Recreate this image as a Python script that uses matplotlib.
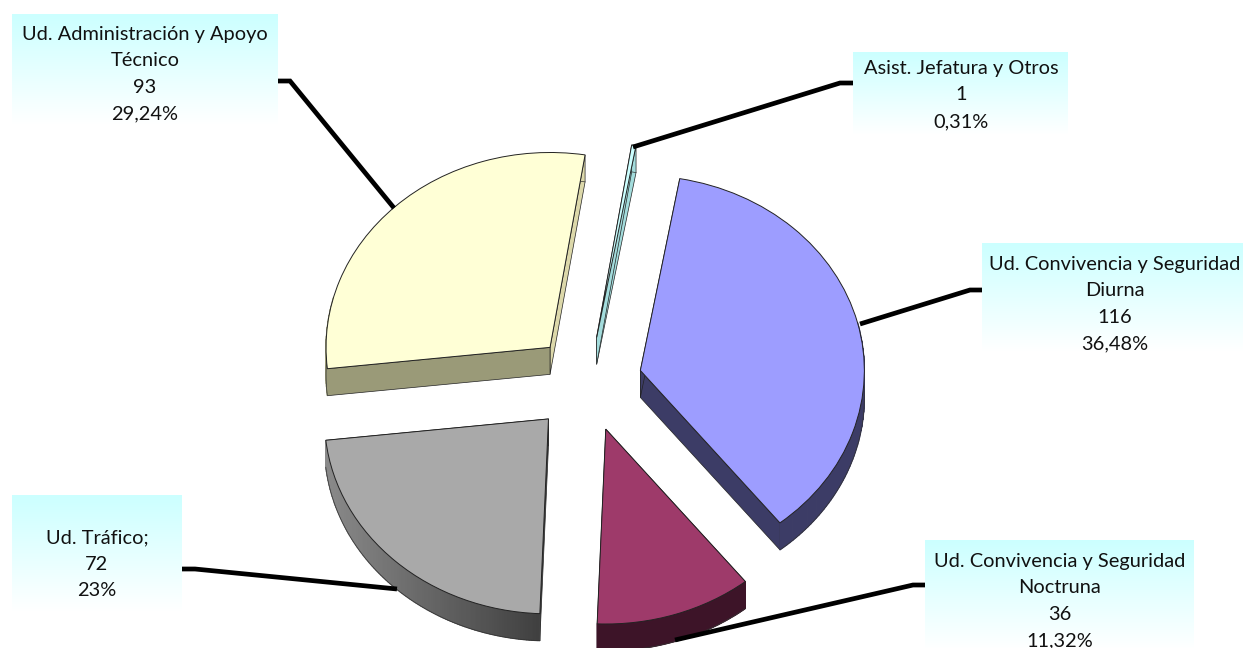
import numpy as np
import matplotlib
matplotlib.use("Agg")
import matplotlib.pyplot as plt
from matplotlib.colors import LinearSegmentedColormap

# data
names = ["Asist. Jefatura y Otros", "Ud. Convivencia y Seguridad\nDiurna",
         "Ud. Convivencia y Seguridad\nNoctruna", "Ud. Tráfico;",
         "Ud. Administración y Apoyo\nTécnico"]
values = [1, 116, 36, 72, 93]
shares = ["0,31%", "36,48%", "11,32%", "23%", "29,24%"]

# style
W, H = 1245, 648
YS = 0.87
R = 224
DEPTH = 27
CX, CY = 588, 382
explode = [52, 54, 57, 58, 55]
tops = ["#ccffff", "#9d9dff", "#9e3a6a", "#a9a9a9", "#ffffd6"]
wall_t2 = ["#a3dcdc", "#3c3c66", "#3d1428", "#4a4a4a", "#9a9a78"]
wall_t1 = ["#a3dcdc", "#3c3c66", "#3d1428", "#4a4a4a", "#dcd8aa"]
arc_left = ["#a3dcdc", "#3c3c66", "#3d1428", "#8a8a8a", "#9a9a78"]
arc_right = ["#a3dcdc", "#3c3c66", "#3d1428", "#404040", "#9a9a78"]
boxes = [(853, 52, 1068, 135), (982, 243, 1243, 352), (925, 540, 1194, 650),
         (12, 495, 182, 612), (12, 14, 278, 125)]
text_pos = [(961, 95), (1115, 304), (1060, 601), (97, 564), (145, 74)]
leaders = [[(853, 83), (840, 83), (633, 147)],
           [(982, 290), (970, 290), (860, 324)],
           [(925, 585), (913, 585), (675, 640)],
           [(182, 569), (195, 569), (397, 589)],
           [(278, 81), (290, 81), (394, 208)]]

plt.rcParams["font.family"] = ["Lato", "DejaVu Sans"]
fig = plt.figure(figsize=(W / 100, H / 100), dpi=100, facecolor="white")
ax = fig.add_axes([0, 0, 1, 1])
wedges, _ = ax.pie(values, explode=explode, radius=R, startangle=81,
                   counterclock=False, center=(CX, (H - CY) / YS), colors=tops,
                   wedgeprops=dict(edgecolor="#222222", linewidth=0.7, zorder=5))
ax.set_aspect("auto")
ax.set_xlim(0, W)
ax.set_ylim(0, H / YS)
ax.axis("off")
d = DEPTH / YS

for i, w in enumerate(wedges):
    cx, cy = w.center
    t1, t2 = w.theta1, w.theta2
    for th, col in ((t1, wall_t1[i]), (t2, wall_t2[i])):
        x = cx + w.r * np.cos(np.radians(th))
        y = cy + w.r * np.sin(np.radians(th))
        ax.fill([cx, x, x, cx], [cy, y, y - d, cy - d], color=col,
                ec="#222222", lw=0.5, zorder=2)
    angs = np.radians(np.linspace(t1, t2, 121))
    xs = cx + w.r * np.cos(angs)
    ys = cy + w.r * np.sin(angs)
    xmin, xmax = xs.min(), xs.max()
    cmap = LinearSegmentedColormap.from_list("w", [arc_left[i], arc_right[i]])
    for k in range(len(angs) - 1):
        if ys[k] + ys[k + 1] > 2 * cy + 0.5 * w.r:
            continue
        c = cmap((0.5 * (xs[k] + xs[k + 1]) - xmin) / max(xmax - xmin, 1))
        ax.fill([xs[k], xs[k + 1], xs[k + 1], xs[k]],
                [ys[k], ys[k + 1], ys[k + 1] - d, ys[k] - d],
                fc=c, ec=c, lw=0.9, zorder=3)
    ax.plot(xs, ys - d, color="#333333", lw=0.5, zorder=4)

ov = fig.add_axes([0, 0, 1, 1], facecolor="none")
ov.axis("off")
grad = LinearSegmentedColormap.from_list("g", ["#ccffff", "#ffffff"])
g = np.linspace(0, 1, 64).reshape(-1, 1)
for i, name in enumerate(names):
    x0, y0, x1, y1 = boxes[i]
    ov.imshow(g, cmap=grad, extent=(x0, x1, y1, y0), aspect="auto", zorder=1, vmin=0, vmax=1)
    xs_l, ys_l = zip(*leaders[i])
    ov.plot(xs_l, ys_l, color="black", lw=3.4, solid_joinstyle="miter",
            solid_capstyle="butt", zorder=2)
    ov.text(text_pos[i][0], text_pos[i][1], f"{name}\n{values[i]}\n{shares[i]}",
            ha="center", va="center", ma="center", fontsize=14.4, color="#111111",
            linespacing=1.68, zorder=3, clip_on=True)
ov.set_xlim(0, W)
ov.set_ylim(H, 0)
fig.savefig("out.png", dpi=100)
